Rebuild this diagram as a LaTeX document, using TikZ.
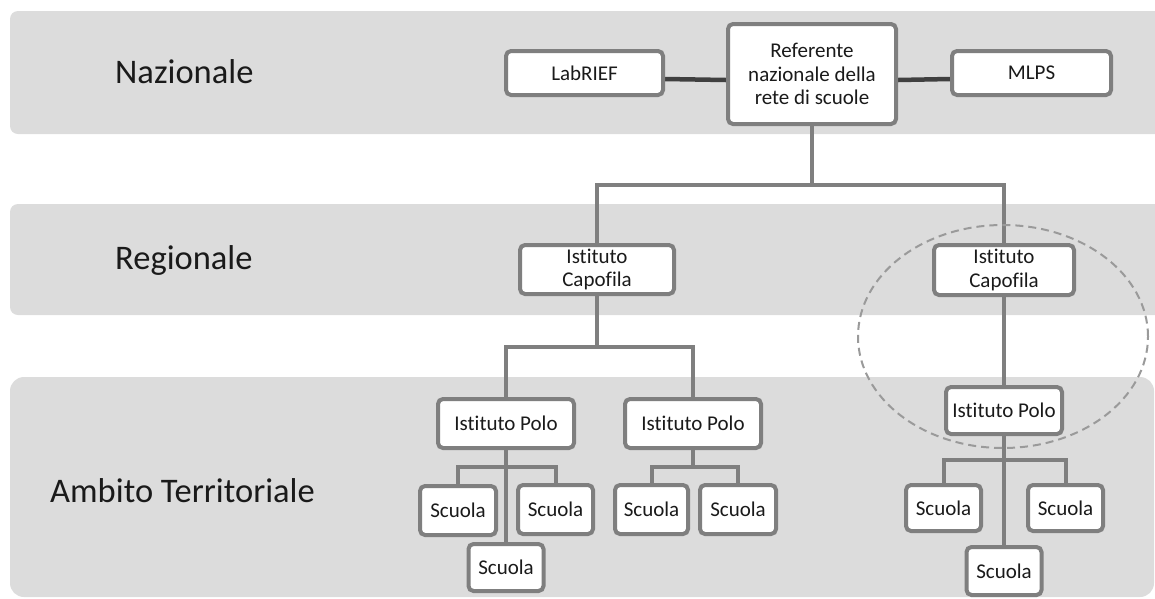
\documentclass[tikz,border=0pt]{standalone}
\usepackage{fontspec}
\setmainfont{Carlito}[Ligatures={NoCommon}]
\usetikzlibrary{calc,shapes.geometric}
\definecolor{bandgray}{HTML}{DCDCDC}
\definecolor{boxgray}{HTML}{7F7F7F}
\definecolor{darklink}{HTML}{404040}
\definecolor{ringgray}{HTML}{9A9A9A}
\definecolor{inkc}{HTML}{1A1A1A}
\pgfdeclarelayer{bands}
\pgfdeclarelayer{links}
\pgfsetlayers{bands,links,main}
\begin{document}
\begin{tikzpicture}[x=1pt,y=-1pt,
  box/.style={draw=boxgray, line width=4pt, fill=white, rounded corners=5pt,
    align=center, inner sep=0pt, text=inkc,
    font=\fontsize{21}{23.5}\selectfont},
  wh/.style 2 args={minimum width=#1pt, minimum height=#2pt},
  link/.style={draw=boxgray, line width=4pt},
  peer/.style={draw=darklink, line width=4.5pt},
  band/.style={fill=bandgray},
  level/.style={anchor=base west, inner sep=0pt, text=inkc,
    font=\fontsize{34.5}{40}\selectfont},
  ring/.style={draw=ringgray, line width=2pt, dash pattern=on 8pt off 5pt,
    ellipse, fill=none, inner sep=0pt}]
\useasboundingbox (0,0) rectangle (1155,598);

% level bands
\begin{pgfonlayer}{bands}
  \fill[band, rounded corners=8pt] (10,11) rectangle (1170,134);
  \fill[band, rounded corners=8pt] (10,204) rectangle (1170,315);
  \fill[band, rounded corners=14pt] (10,377) rectangle (1154,597);
\end{pgfonlayer}

% level names
\node[level] (lnaz) at (115,83) {Nazionale};
\node[level] (lreg) at (115,269) {Regionale};
\node[level] (lamb) at (50,502) {Ambito Territoriale};

% national level
\node[box, wh={157}{44}] (lab) at (584.5,73) {LabRIEF};
\node[box, wh={168}{100}] (ref) at (812,74) {Referente\\nazionale della\\rete di scuole};
\node[box, wh={159}{44}] (mlps) at (1031.5,73) {MLPS};

% regional level
\node[box, wh={154}{49}] (cap1) at (597,269.5) {Istituto\\Capofila};
\node[box, wh={140}{50}] (cap2) at (1004,270) {Istituto\\Capofila};

% territorial level
\node[box, wh={136}{49}] (polo1) at (506,423.5) {Istituto Polo};
\node[box, wh={136}{49}] (polo2) at (693,423.5) {Istituto Polo};
\node[box, wh={116}{47}] (polo3) at (1004,410.5) {Istituto Polo};

\node[box, wh={76}{49}] (s1a) at (458,510.5) {Scuola};
\node[box, wh={75}{49}] (s1b) at (555.5,509.5) {Scuola};
\node[box, wh={75}{47}] (s1c) at (506,567.5) {Scuola};
\node[box, wh={73}{49}] (s2a) at (651.5,509.5) {Scuola};
\node[box, wh={76}{49}] (s2b) at (738,509.5) {Scuola};
\node[box, wh={75}{46}] (s3a) at (943.5,508) {Scuola};
\node[box, wh={75}{46}] (s3b) at (1065.5,508) {Scuola};
\node[box, wh={75}{48}] (s3c) at (1004,571) {Scuola};

% junction points of the tree
\coordinate (j0) at (812,185);
\coordinate (j1) at (597,347);
\coordinate (k1) at (506,467);
\coordinate (k2) at (693,467);
\coordinate (k3) at (1004,460);

\begin{pgfonlayer}{links}
  \draw[peer] ([yshift=-6pt]lab.east) -- ([yshift=-6pt]ref.west);
  \draw[peer] ([yshift=-6pt]ref.east) -- ([yshift=-6pt]mlps.west);

  \draw[link] (ref.south) -- (j0);
  \draw[link] (cap1.north) |- (j0) -| (cap2.north);

  \draw[link] (cap1.south) -- (j1);
  \draw[link] (polo1.north) |- (j1) -| (polo2.north);
  \draw[link] (cap2.south) -- (polo3.north);

  \draw[link] (polo1.south) -- (s1c.north);
  \draw[link] (s1a.north) |- (k1) -| (s1b.north);
  \draw[link] (polo2.south) -- (k2);
  \draw[link] (s2a.north) |- (k2) -| (s2b.north);
  \draw[link] (polo3.south) -- (s3c.north);
  \draw[link] (s3a.north) |- (k3) -| (s3b.north);
\end{pgfonlayer}

% the regional unit singled out
\node[ring, minimum width=290pt, minimum height=223pt] (focus) at (1003,336.5) {};
\end{tikzpicture}
\end{document}
